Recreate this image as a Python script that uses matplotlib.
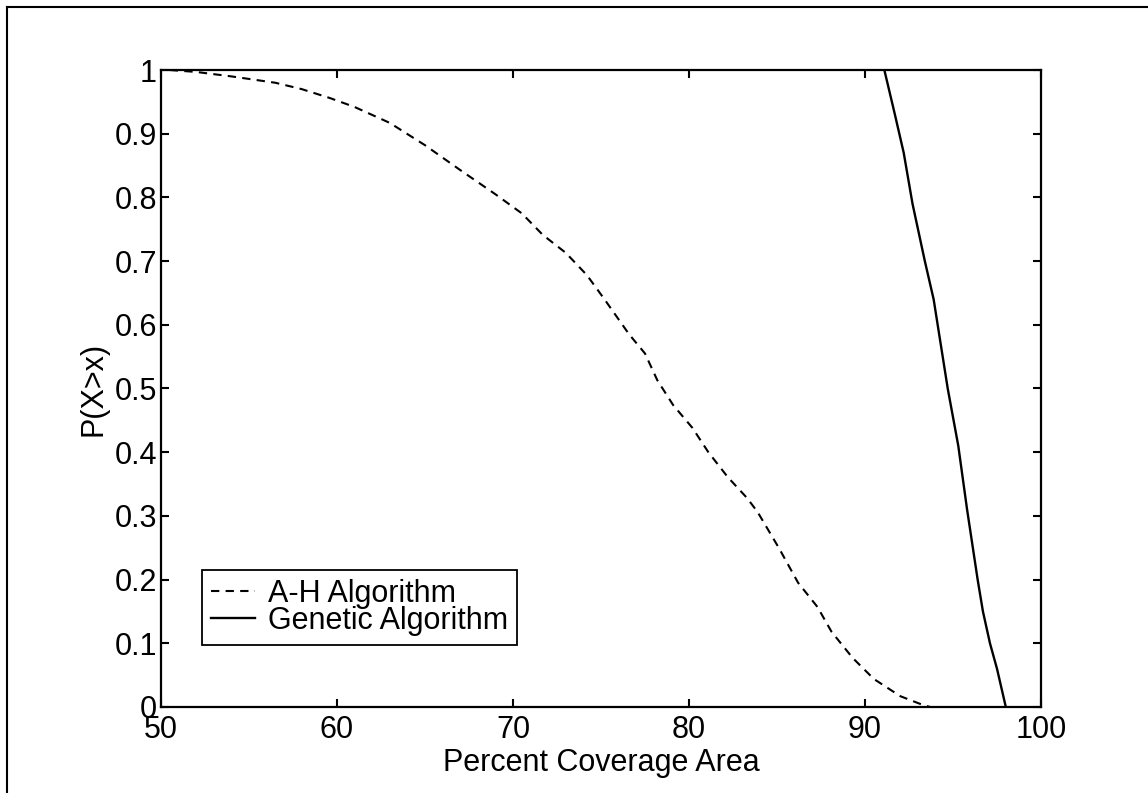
import matplotlib
matplotlib.use("Agg")
import matplotlib.pyplot as plt
from matplotlib.lines import Line2D

plt.rcParams['font.family'] = ['Liberation Sans', 'DejaVu Sans']

# A-H algorithm, complementary CDF of coverage
ah_x = [50.5, 52.0, 54.0, 56.5, 58.0, 59.6, 61.0, 63.0, 65.0, 67.0, 69.0, 70.5,
        71.7, 73.0, 74.2, 75.2, 76.6, 77.5, 78.2, 79.1, 80.2, 81.1, 82.2, 83.3,
        83.9, 85.1, 86.2, 87.3, 88.1, 89.3, 90.5, 92.0, 93.3, 93.7]
ah_y = [1.0, 0.997, 0.990, 0.980, 0.970, 0.956, 0.942, 0.917, 0.882, 0.843, 0.805, 0.775,
        0.741, 0.713, 0.678, 0.640, 0.585, 0.555, 0.513, 0.474, 0.438, 0.400, 0.361, 0.328,
        0.306, 0.250, 0.195, 0.157, 0.118, 0.077, 0.044, 0.017, 0.003, 0.0]

# genetic algorithm
ga_x = [91.1, 91.7, 92.2, 92.7, 93.4, 93.9, 94.3, 94.7, 95.3, 95.8, 96.4, 96.7,
        97.1, 97.5, 98.0]
ga_y = [1.0, 0.93, 0.87, 0.79, 0.70, 0.64, 0.57, 0.50, 0.41, 0.31, 0.20, 0.15,
        0.10, 0.06, 0.0]

xticks = [50, 60, 70, 80, 90, 100]
yticks = [0, 0.1, 0.2, 0.3, 0.4, 0.5, 0.6, 0.7, 0.8, 0.9, 1]
ytick_labels = ['0', '0.1', '0.2', '0.3', '0.4', '0.5', '0.6', '0.7', '0.8', '0.9', '1']

fig = plt.figure(figsize=(11.48, 7.93), dpi=100)
ax = fig.add_axes([0.1402, 0.1085, 0.7666, 0.8032])

ax.plot(ah_x, ah_y, color='black', linewidth=1.5, dashes=(4, 3), label='A-H Algorithm')
ax.plot(ga_x, ga_y, color='black', linewidth=1.7, label='Genetic Algorithm')

ax.set_xlim(50, 100)
ax.set_ylim(0, 1)
ax.set_xticks(xticks)
ax.set_xticklabels([str(t) for t in xticks])
ax.set_yticks(yticks)
ax.set_yticklabels(ytick_labels)
ax.tick_params(direction='in', length=6, width=1.5, labelsize=22,
               top=True, right=True, pad=3)
ax.tick_params(axis='x', pad=6)
for s in ax.spines.values():
    s.set_linewidth(1.6)

ax.set_xlabel('Percent Coverage Area', fontsize=22, labelpad=2)
ax.set_ylabel('P(X>x)', fontsize=22, labelpad=4)

leg = ax.legend(loc='lower left', bbox_to_anchor=(0.0466, 0.097), borderaxespad=0,
                fontsize=22, handlelength=1.45, handletextpad=0.4, borderpad=0.3,
                labelspacing=-0.1, fancybox=False, framealpha=1)
leg.get_frame().set_edgecolor('black')
leg.get_frame().set_linewidth(1.3)

# outer frame, only the top and left edges fall inside the image
fig.add_artist(Line2D([7 / 1148, 1], [1 - 7 / 793, 1 - 7 / 793], color='black', linewidth=1.5))
fig.add_artist(Line2D([7 / 1148, 7 / 1148], [0, 1 - 7 / 793], color='black', linewidth=1.5))

fig.savefig('out.png', dpi=100)
